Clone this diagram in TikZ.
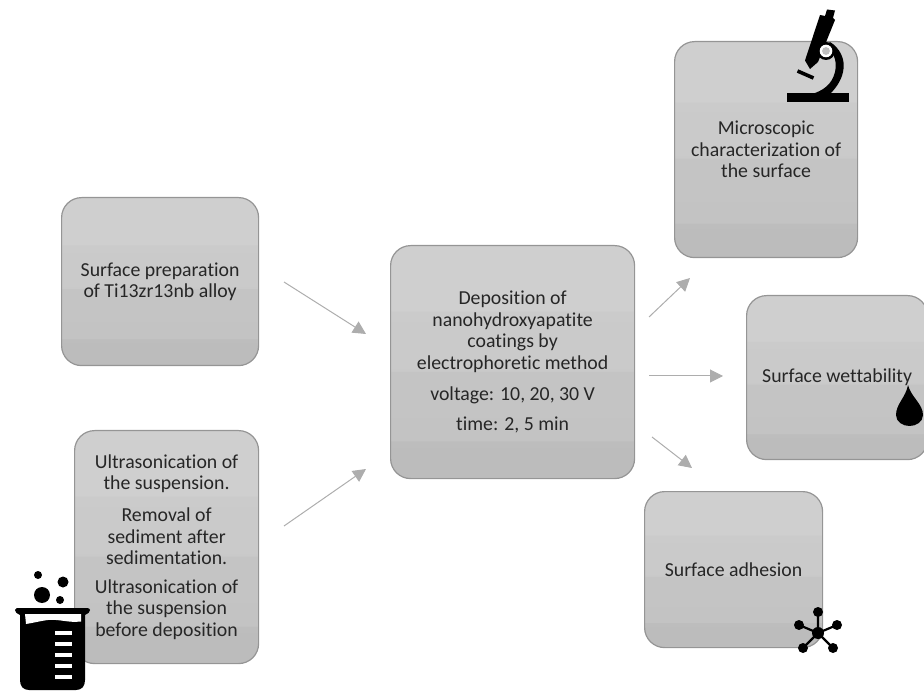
\documentclass[tikz,border=0pt]{standalone}
\usepackage{fontspec}
\setmainfont[Ligatures=NoCommon]{Carlito}
\usetikzlibrary{arrows.meta}
\definecolor{boxline}{HTML}{959595}
\definecolor{arrowc}{HTML}{ADADAD}
\definecolor{txt}{HTML}{262626}
\pgfdeclareverticalshading{bands}{100bp}{
  color(0bp)=(black!26.5);color(25bp)=(black!26.5);color(33bp)=(black!26);
  color(33bp)=(black!23.5);color(48bp)=(black!23);
  color(48bp)=(black!21);color(61bp)=(black!20.5);
  color(61bp)=(black!19);color(100bp)=(black!18)}
\tikzset{
  box/.style={draw=boxline,line width=1.2pt,rounded corners=20pt,shading=bands,
    align=center,text=txt,font=\fontsize{19.8}{21.6}\selectfont,inner sep=0pt,anchor=north west},
  flow/.style={draw=arrowc,line width=1pt,-{Triangle[length=13pt,width=13pt]}},
  ink/.style={fill=black,draw=none}
}
\begin{document}
\begin{tikzpicture}[x=1pt,y=-1pt]
\useasboundingbox (0,0) rectangle (924,692);
\begin{scope}
\clip (0,0) rectangle (924,692);
\node[box,minimum width=197pt,minimum height=168pt] (prep) at (61,197) {Surface preparation\\of Ti13zr13nb alloy};
\node[box,minimum width=184pt,minimum height=233pt] (susp) at (74,430) {Ultrasonication of\\the suspension.\\[10pt]Removal of\\sediment after\\sedimentation.\\[7pt]Ultrasonication of\\the suspension\\before deposition};
\node[box,minimum width=244pt,minimum height=233pt] (depo) at (390,245) {Deposition of\\nanohydroxyapatite\\coatings by\\electrophoretic method\\[9pt]voltage: 10, 20, 30 V\\[9pt]time: 2, 5 min};
\node[box,minimum width=183pt,minimum height=216pt] (micro) at (674,41) {Microscopic\\characterization of\\the surface};
\node[box,minimum width=181pt,minimum height=164pt] (wett) at (746,295) {Surface wettability};
\node[box,minimum width=178pt,minimum height=156pt] (adh) at (644,491) {Surface adhesion};
\end{scope}
% connectors
\coordinate (a1) at (284,282); \coordinate (a2) at (366,334);
\coordinate (b1) at (284,526); \coordinate (b2) at (366,469);
\coordinate (c1) at (649,317); \coordinate (c2) at (690,278);
\coordinate (d1) at (649,376); \coordinate (d2) at (723,376);
\coordinate (e1) at (652,437); \coordinate (e2) at (692,468);
\draw[flow] (a1) -- (a2);
\draw[flow] (b1) -- (b2);
\draw[flow] (c1) -- (c2);
\draw[flow] (d1) -- (d2);
\draw[flow] (e1) -- (e2);
% microscope
\fill[ink] (787,93) rectangle (849,102);
\fill[ink] (830,42) .. controls (840,48) and (846,60) .. (843,72) .. controls (841,82) and (834,90) .. (830,94) -- (812,94) .. controls (822,91) and (832,85) .. (835,72) .. controls (838,60) and (832,50) .. (826,46) -- cycle;
\fill[ink] (827,9.5) -- (835,10.5) -- (833,18) -- (835,20) -- (818,62) -- (810,69) -- (805,60.5) -- (820,15) -- (825,16) -- cycle;
\fill[ink] (826,51) circle (9);
\fill[white] (826,51) circle (6.3);
\fill[black!25] (826,51) circle (3.9);
\draw[line width=3.6pt,black] (797.5,71) -- (813.5,78);
% drop
\fill[ink] (908,385) .. controls (911,397) and (923,404) .. (923,415) .. controls (923,422) and (916,426) .. (909.5,426) .. controls (903,426) and (896,422) .. (896,415) .. controls (896,404) and (906,397) .. (908,385) -- cycle;
% molecule
\draw[line width=2.2pt,black] (818,612) -- (818,633) (799,625) -- (818,633) (837,625) -- (818,633) (803,648) -- (818,633) (833,648) -- (818,633);
\fill[ink] (818,633) circle (6);
\foreach \p in {(818,612),(799,625),(837,625),(803,648),(833,648)} \fill[ink] \p circle (5);
% beaker
\fill[ink] (38,575) circle (4);
\fill[ink] (63,582) circle (5.5);
\fill[ink] (42,595) circle (8);
\fill[ink] (60,600) circle (4);
\fill[ink] (15,610) .. controls (16,608) and (17,608) .. (19,608) -- (87,608) .. controls (89,608) and (90,609) .. (90,610) .. controls (90,612) and (88,614) .. (85,615) -- (85,680) .. controls (85,686) and (82,690) .. (76,690) -- (29,690) .. controls (23,690) and (20,686) .. (20,680) -- (20,615) .. controls (17,614) and (15,612) .. (15,610) -- cycle;
\fill[white] (25,614) -- (81,614) -- (81,621.5) .. controls (68,623) and (60,619) .. (48,620) .. controls (40,621) and (33,623) .. (26,624) -- cycle;
\foreach \y in {633,644,655,666,677} \fill[white] (55,\y-2.3) rectangle (72,\y+2.3);
\end{tikzpicture}
\end{document}
